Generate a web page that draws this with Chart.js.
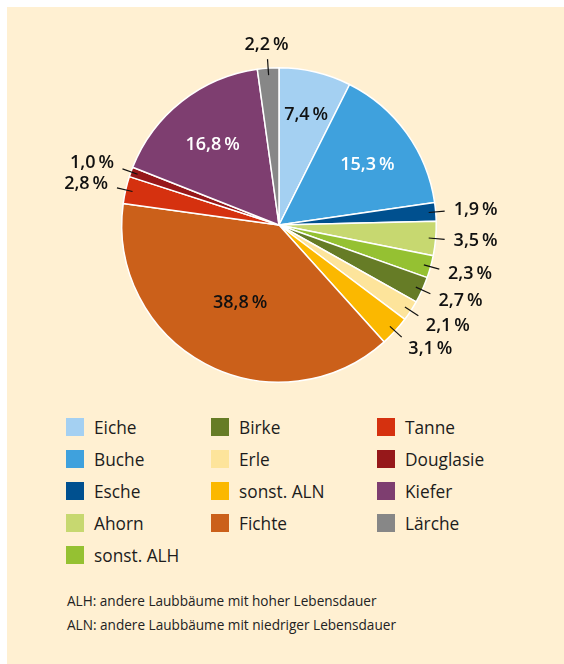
<!DOCTYPE html>
<html lang="de">
<head>
<meta charset="utf-8">
<title>Baumarten</title>
<script src="https://cdn.jsdelivr.net/npm/chart.js@4.4.1/dist/chart.umd.min.js"></script>
<style>
  html, body { margin:0; padding:0; background:#fff; }
  body { width:564px; height:664px; position:relative; overflow:hidden; font-family:'Open Sans', sans-serif; color:#1c1c1c; }
  #panel { position:absolute; left:7px; top:7px; right:0; bottom:0; background:#fff0d2; }
  #pie { position:absolute; left:0; top:0; }
  #legend { position:absolute; left:66px; top:418px; display:grid; grid-template-columns:145px 166px 150px; grid-template-rows:repeat(5, 32px); }
  .item { display:flex; align-items:flex-start; font-size:17.3px; line-height:18px; }
  .item i { display:inline-block; width:18px; height:18px; margin-right:10px; flex:none; }
  .item span { margin-top:1px; }
  #notes { position:absolute; left:67px; top:589px; font-size:13.6px; line-height:24px; color:#222; }
</style>
</head>
<body>
<div id="panel"></div>
<canvas id="pie" width="564" height="400"></canvas>
<div id="legend"></div>
<div id="notes">
  <div>ALH: andere Laubbäume mit hoher Lebensdauer</div>
  <div>ALN: andere Laubbäume mit niedriger Lebensdauer</div>
</div>
<script>
/* ── data ── */
const SPECIES = ['Eiche','Buche','Esche','Ahorn','sonst. ALH','Birke','Erle','sonst. ALN','Fichte','Tanne','Douglasie','Kiefer','Lärche'];
const SHARES  = [7.4, 15.3, 1.9, 3.5, 2.3, 2.7, 2.1, 3.1, 38.8, 2.8, 1.0, 16.8, 2.2];

/* ── styles ── */
const COLORS = ['#a4d0f2','#3fa1dd','#00508f','#c7d870','#95c132','#667c26','#fde49b','#fbb800','#cb601a','#d5310f','#96181a','#7e3e70','#878787'];
const INNER_TEXT = ['#111','#fff','#fff','#fff','#fff','#fff','#fff','#fff','#111','#fff','#fff','#fff','#fff'];
const INSIDE_MIN = 5;

const fmt = v => v.toFixed(1).replace('.', ',') + '\u2009%';

/* ── slice labels + leader lines ── */
const sliceLabels = {
  id:'sliceLabels',
  afterDatasetsDraw(chart) {
    const ctx = chart.ctx;
    const arcs = chart.getDatasetMeta(0).data;
    ctx.save();
    ctx.font = '600 18px "Open Sans", sans-serif';
    arcs.forEach((arc, i) => {
      const {x, y, startAngle, endAngle, outerRadius:R} = arc.getProps(['x','y','startAngle','endAngle','outerRadius'], true);
      const mid = (startAngle + endAngle) / 2;
      const cx = Math.cos(mid), cy = Math.sin(mid);
      const v = SHARES[i];
      if (v >= INSIDE_MIN) {
        // bigger slices get their label a little nearer the centre
        const r = R * (0.8 - 0.007 * v);
        ctx.fillStyle = INNER_TEXT[i];
        ctx.textAlign = 'center';
        ctx.textBaseline = 'middle';
        ctx.fillText(fmt(v), x + cx * r, y + cy * r + 4);
        return;
      }
      // leader line
      ctx.strokeStyle = '#111';
      ctx.lineWidth = 1.2;
      ctx.beginPath();
      ctx.moveTo(x + cx * (R - 7), y + cy * (R - 7));
      ctx.lineTo(x + cx * (R + 9), y + cy * (R + 9));
      ctx.stroke();
      ctx.fillStyle = '#111';
      ctx.textBaseline = 'middle';
      let r = R + 18;
      if (cx > 0.3) ctx.textAlign = 'left';
      else if (cx < -0.3) ctx.textAlign = 'right';
      else { ctx.textAlign = 'center'; r = R + 23; }
      ctx.fillText(fmt(v), x + cx * r, y + cy * r + (Math.abs(cx) > 0.3 ? cy * 9 : 0));
    });
    ctx.restore();
  }
};

new Chart(document.getElementById('pie'), {
  type:'pie',
  data:{
    labels: SPECIES,
    datasets:[{ data:SHARES, backgroundColor:COLORS, borderColor:'#ffffff', borderWidth:1.5 }]
  },
  options:{
    responsive:false, animation:false,
    layout:{ padding:{ left:100, right:106, top:67, bottom:17 } },
    plugins:{ legend:{ display:false }, tooltip:{ enabled:false } }
  },
  plugins:[sliceLabels]
});

/* ── legend (3 columns, filled top-down: 5 / 4 / 4) ── */
const legend = document.getElementById('legend');
SPECIES.forEach((name, i) => {
  const col = i < 5 ? 1 : 2 + Math.floor((i - 5) / 4);
  const row = i < 5 ? i + 1 : (i - 5) % 4 + 1;
  const el = document.createElement('div');
  el.className = 'item';
  el.style.gridColumn = col;
  el.style.gridRow = row;
  el.innerHTML = `<i style="background:${COLORS[i]}"></i><span>${name}</span>`;
  legend.appendChild(el);
});
</script>
</body>
</html>
